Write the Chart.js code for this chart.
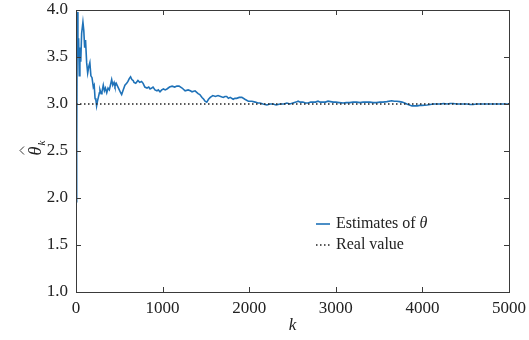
<!DOCTYPE html>
<html>
<head>
<meta charset="utf-8">
<script src="https://cdn.jsdelivr.net/npm/chart.js@4"></script>
<style>
  html, body { margin: 0; padding: 0; background: #fff; }
  #wrap { width: 529px; height: 340px; position: relative; }
</style>
</head>
<body>
<div id="wrap"><canvas id="chart"></canvas></div>
<script>
// Running estimate of theta against iteration k
const kSteps = [
  1, 8, 15, 22, 30, 38, 45, 55, 65, 80, 90, 100, 110, 123, 135, 148, 160, 172, 185, 200,
  210, 220, 230, 238, 248, 258, 270, 277, 290, 300, 315, 328, 340, 355, 370, 385, 400, 412, 425, 440,
  450, 465, 485, 500, 515, 527, 545, 565, 585, 600, 615, 630, 645, 660, 670, 690, 715, 735, 757, 775,
  795, 820, 840, 855, 875, 890, 912, 935, 950, 970, 990, 1010, 1030, 1050, 1080, 1110, 1140, 1165, 1190, 1225,
  1260, 1295, 1320, 1340, 1375, 1410, 1430, 1455, 1475, 1490, 1510, 1530, 1550, 1580, 1610, 1640, 1670, 1700, 1720, 1740,
  1760, 1780, 1815, 1835, 1855, 1885, 1915, 1950, 1990, 2030, 2070, 2100, 2125, 2160, 2205, 2240, 2275, 2310, 2355, 2400,
  2435, 2470, 2505, 2540, 2565, 2590, 2620, 2650, 2680, 2710, 2735, 2765, 2795, 2820, 2850, 2880, 2910, 2940, 2970, 3000,
  3040, 3085, 3120, 3160, 3200, 3240, 3280, 3315, 3355, 3395, 3430, 3470, 3510, 3545, 3590, 3645, 3675, 3705, 3735, 3765,
  3795, 3820, 3850, 3880, 3910, 3940, 3970, 3995, 4055, 4090, 4125, 4165, 4205, 4245, 4285, 4320, 4355, 4395, 4435, 4475,
  4515, 4550, 4585, 4625, 4665, 4705, 4745, 4780, 4815, 4855, 4895, 4935, 4975, 5000
];
const estimates = [
  1.96, 2.6, 3.98, 3.5, 3.7, 3.3, 3.6, 3.45, 3.75, 3.87, 3.78, 3.6, 3.68, 3.44, 3.33, 3.4, 3.44, 3.3, 3.28, 3.18,
  3.2, 3.06, 3.04, 2.98, 3.03, 3.07, 3.12, 3.15, 3.11, 3.13, 3.2, 3.14, 3.17, 3.12, 3.17, 3.15, 3.21, 3.26, 3.2, 3.23,
  3.19, 3.22, 3.18, 3.15, 3.12, 3.10, 3.15, 3.2, 3.22, 3.24, 3.27, 3.29, 3.26, 3.25, 3.23, 3.22, 3.25, 3.23, 3.24, 3.22,
  3.18, 3.17, 3.18, 3.16, 3.17, 3.18, 3.15, 3.14, 3.15, 3.13, 3.15, 3.16, 3.15, 3.16, 3.18, 3.19, 3.18, 3.19, 3.19, 3.17,
  3.14, 3.15, 3.14, 3.13, 3.14, 3.11, 3.10, 3.07, 3.05, 3.03, 3.02, 3.05, 3.07, 3.09, 3.08, 3.09, 3.08, 3.07, 3.08, 3.08,
  3.06, 3.07, 3.05, 3.06, 3.06, 3.07, 3.07, 3.05, 3.03, 3.03, 3.02, 3.01, 3.01, 3.0, 2.99, 3.0, 3.0, 2.99, 3.0, 3.0,
  3.01, 3.0, 3.01, 3.02, 3.03, 3.02, 3.02, 3.01, 3.01, 3.02, 3.02, 3.02, 3.03, 3.02, 3.02, 3.02, 3.03, 3.025, 3.02, 3.02,
  3.015, 3.01, 3.015, 3.015, 3.02, 3.02, 3.015, 3.02, 3.02, 3.02, 3.015, 3.015, 3.02, 3.02, 3.025, 3.035, 3.03, 3.03, 3.025, 3.02,
  3.01, 3.0, 2.99, 2.98, 2.98, 2.98, 2.985, 2.985, 2.99, 2.995, 3.0, 3.0, 3.0, 3.005, 3.0, 3.005, 3.005, 3.0, 3.0, 3.0,
  3.0, 2.995, 2.995, 3.0, 3.0, 3.0, 3.0, 3.0, 3.0, 3.0, 3.0, 3.0, 3.0, 3.0
];
const realValue = 3.0;
const xTicks = [0, 1000, 2000, 3000, 4000, 5000];
const yTicks = [1.0, 1.5, 2.0, 2.5, 3.0, 3.5, 4.0];

const SERIF = "'Liberation Serif', 'Times New Roman', serif";
const AXIS_COLOR = '#3a3a3a';
const BLUE = '#1f72b8';
const DOT_COLOR = '#222';
const DOTS = [1.5, 2.5];

// Box around the plot with inward ticks on all four sides, plus labels and legend
const framePlugin = {
  id: 'frame',
  afterDraw(chart) {
    const { ctx, chartArea: a, scales } = chart;
    const tl = 5;
    ctx.save();
    ctx.strokeStyle = AXIS_COLOR;
    ctx.lineWidth = 1;
    ctx.strokeRect(a.left + 0.5, a.top + 0.5, a.right - a.left, a.bottom - a.top);
    ctx.beginPath();
    xTicks.forEach(v => {
      const x = Math.round(scales.x.getPixelForValue(v)) + 0.5;
      ctx.moveTo(x, a.bottom); ctx.lineTo(x, a.bottom - tl);
      ctx.moveTo(x, a.top); ctx.lineTo(x, a.top + tl);
    });
    yTicks.forEach(v => {
      const y = Math.round(scales.y.getPixelForValue(v)) + 0.5;
      ctx.moveTo(a.left, y); ctx.lineTo(a.left + tl, y);
      ctx.moveTo(a.right, y); ctx.lineTo(a.right - tl, y);
    });
    ctx.stroke();

    // x title
    ctx.fillStyle = '#222';
    ctx.font = 'italic 17px ' + SERIF;
    ctx.textAlign = 'center';
    ctx.textBaseline = 'middle';
    ctx.fillText('k', (a.left + a.right) / 2, 326);

    // y title: theta hat with subscript k, rotated
    ctx.save();
    ctx.translate(36, (a.top + a.bottom) / 2);
    ctx.rotate(-Math.PI / 2);
    ctx.font = 'italic 18px ' + SERIF;
    ctx.textAlign = 'center';
    ctx.textBaseline = 'alphabetic';
    ctx.fillText('θ', 0, 5);
    ctx.beginPath();
    ctx.strokeStyle = '#222';
    ctx.lineWidth = 0.9;
    ctx.moveTo(-3.5, -12); ctx.lineTo(0.5, -16); ctx.lineTo(4.5, -12);
    ctx.stroke();
    ctx.font = 'italic 11px ' + SERIF;
    ctx.fillText('k', 8, 9);
    ctx.restore();

    // legend
    const lx = 316, ly1 = 224, ly2 = 245;
    ctx.lineWidth = 1.6;
    ctx.strokeStyle = BLUE;
    ctx.beginPath(); ctx.moveTo(lx, ly1); ctx.lineTo(lx + 14, ly1); ctx.stroke();
    ctx.strokeStyle = DOT_COLOR;
    ctx.lineWidth = 1.3;
    ctx.setLineDash(DOTS);
    ctx.beginPath(); ctx.moveTo(lx, ly2); ctx.lineTo(lx + 14, ly2); ctx.stroke();
    ctx.setLineDash([]);
    ctx.textAlign = 'left';
    ctx.textBaseline = 'middle';
    ctx.fillStyle = '#222';
    ctx.font = '16px ' + SERIF;
    const t1 = 'Estimates of ';
    ctx.fillText(t1, 336, ly1);
    const w1 = ctx.measureText(t1).width;
    ctx.font = 'italic 16px ' + SERIF;
    ctx.fillText('θ', 336 + w1, ly1);
    ctx.font = '16px ' + SERIF;
    ctx.fillText('Real value', 336, ly2);
    ctx.restore();
  }
};

new Chart(document.getElementById('chart'), {
  type: 'line',
  data: {
    datasets: [
      {
        label: 'Real value',
        data: [{ x: 0, y: realValue }, { x: 5000, y: realValue }],
        borderColor: DOT_COLOR,
        borderWidth: 1.3,
        borderDash: DOTS,
        pointRadius: 0
      },
      {
        label: 'Estimates of θ',
        data: kSteps.map((k, i) => ({ x: k, y: estimates[i] })),
        borderColor: BLUE,
        borderWidth: 1.6,
        pointRadius: 0,
        tension: 0
      }
    ]
  },
  options: {
    responsive: true,
    maintainAspectRatio: false,
    animation: false,
    layout: { padding: { top: 10, right: 20, left: 0, bottom: 0 } },
    plugins: { legend: { display: false }, tooltip: { enabled: false } },
    scales: {
      x: {
        type: 'linear',
        min: 0, max: 5000,
        afterBuildTicks: s => { s.ticks = xTicks.map(v => ({ value: v })); },
        afterFit: s => { s.height = 48; s.paddingLeft = 0; s.paddingRight = 0; },
        grid: { display: false, drawTicks: false },
        border: { display: false },
        ticks: {
          color: '#222', padding: 6, maxRotation: 0,
          font: { family: SERIF, size: 17 },
          callback: v => String(v)
        }
      },
      y: {
        min: 1, max: 4,
        afterBuildTicks: s => { s.ticks = yTicks.map(v => ({ value: v })); },
        afterFit: s => { s.width = 76; s.paddingTop = 0; s.paddingBottom = 0; },
        grid: { display: false, drawTicks: false },
        border: { display: false },
        ticks: {
          color: '#222', padding: 8,
          font: { family: SERIF, size: 17 },
          callback: v => Number(v).toFixed(1)
        }
      }
    }
  },
  plugins: [framePlugin]
});
</script>
</body>
</html>
